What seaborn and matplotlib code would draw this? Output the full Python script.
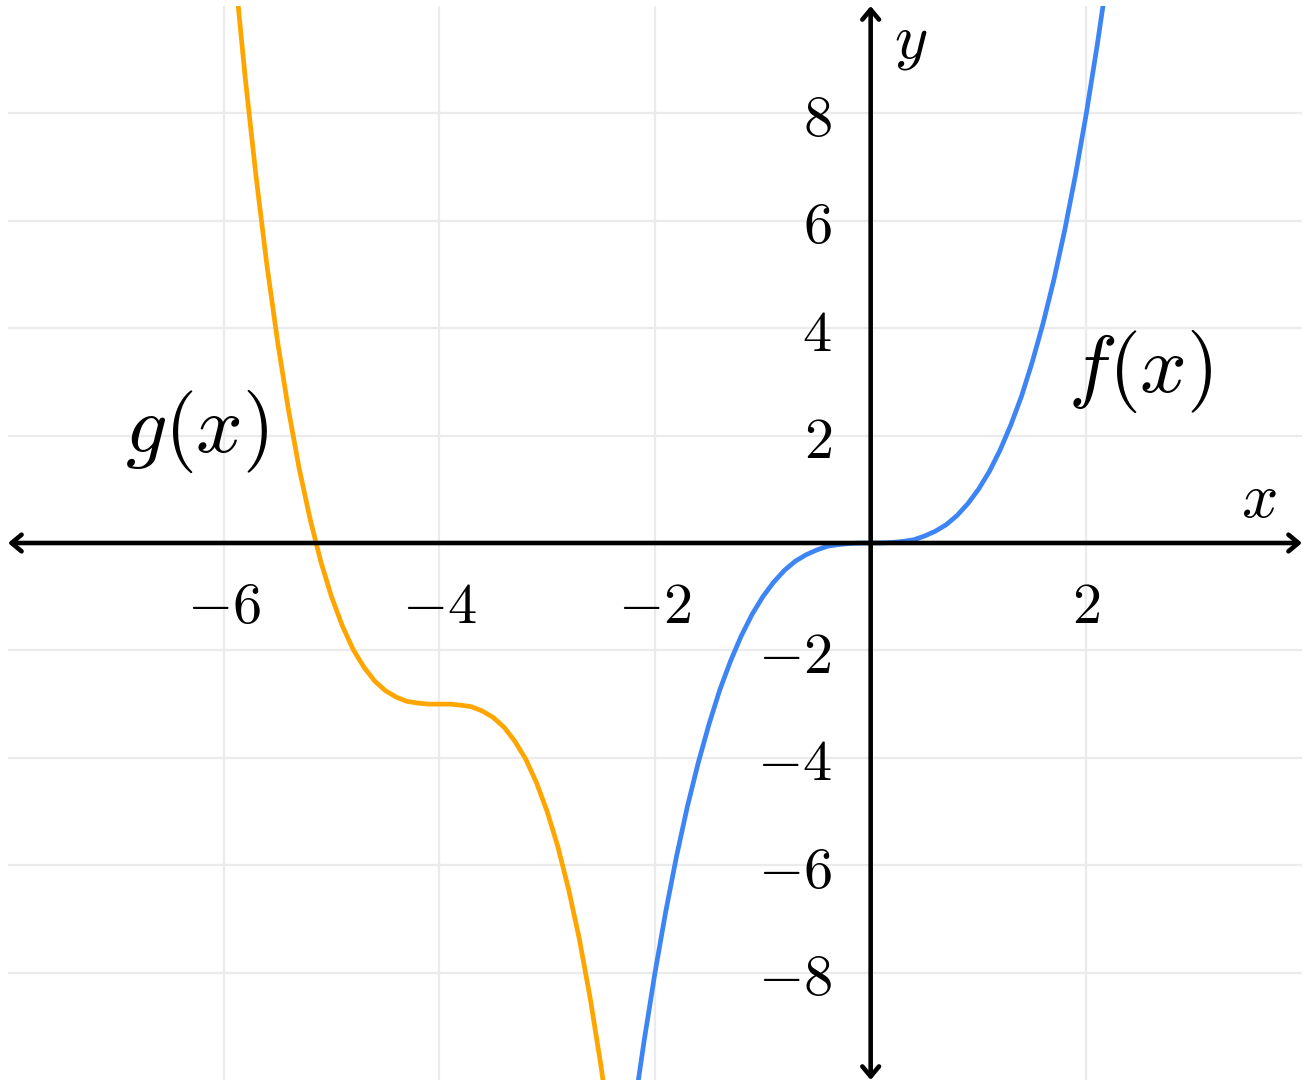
import matplotlib
matplotlib.use("Agg")
import matplotlib.pyplot as plt
import seaborn as sns
import pandas as pd

# ---- data ----
f_x = [-2.16, -2.1, -2.0, -1.9, -1.8, -1.7, -1.6, -1.5, -1.4, -1.3, -1.2, -1.1,
       -1.0, -0.9, -0.8, -0.7, -0.6, -0.5, -0.4, -0.3, -0.2, -0.1, 0.0,
       0.1, 0.2, 0.3, 0.4, 0.5, 0.6, 0.7, 0.8, 0.9, 1.0, 1.1, 1.2, 1.3,
       1.4, 1.5, 1.6, 1.7, 1.8, 1.9, 2.0, 2.1, 2.16]
f_y = [-10.08, -9.26, -8.0, -6.86, -5.83, -4.91, -4.10, -3.38, -2.74, -2.20, -1.73, -1.33,
       -1.0, -0.73, -0.51, -0.34, -0.22, -0.13, -0.06, -0.03, -0.01, -0.001, 0.0,
       0.001, 0.01, 0.03, 0.06, 0.13, 0.22, 0.34, 0.51, 0.73, 1.0, 1.33, 1.73, 2.20,
       2.74, 3.38, 4.10, 4.91, 5.83, 6.86, 8.0, 9.26, 10.08]

g_x = [-5.9, -5.8, -5.7, -5.6, -5.5, -5.4, -5.3, -5.2, -5.1, -5.0, -4.9, -4.8,
       -4.7, -4.6, -4.5, -4.4, -4.3, -4.2, -4.1, -4.0, -3.9, -3.8, -3.7, -3.6,
       -3.5, -3.4, -3.3, -3.2, -3.1, -3.0, -2.9, -2.8, -2.7, -2.6, -2.5, -2.4]
g_y = [10.72, 8.66, 6.83, 5.19, 3.75, 2.49, 1.39, 0.46, -0.34, -1.0, -1.54, -1.98,
       -2.31, -2.57, -2.75, -2.87, -2.95, -2.98, -3.0, -3.0, -3.0, -3.02, -3.05, -3.13,
       -3.25, -3.43, -3.69, -4.02, -4.46, -5.0, -5.66, -6.46, -7.39, -8.49, -9.75, -11.19]

x_ticks = [-6, -4, -2, 2]
y_ticks = [-8, -6, -4, -2, 2, 4, 6, 8]
x_limits = [-8, 4]
y_limits = [-10, 10]

curve_names = ["f(x)", "g(x)"]
curve_colors = ["#3d85f5", "#ffa500"]

# ---- styling ----
sns.set_theme(style="white")
plt.rcParams["font.family"] = ["DejaVu Sans"]
plt.rcParams["mathtext.fontset"] = "cm"
plt.rcParams["text.color"] = "black"

fig = plt.figure(figsize=(13.06, 10.86), dpi=100)
ax = fig.add_axes([8 / 1306, 6 / 1086, 1294 / 1306, 1074 / 1086])

df_f = pd.DataFrame({"x": f_x, "y": f_y})
df_g = pd.DataFrame({"x": g_x, "y": g_y})
sns.lineplot(data=df_g, x="x", y="y", ax=ax, color=curve_colors[1], lw=3.4, sort=False)
sns.lineplot(data=df_f, x="x", y="y", ax=ax, color=curve_colors[0], lw=3.4, sort=False)

ax.set_xlim(*x_limits)
ax.set_ylim(*y_limits)
ax.set_xlabel("")
ax.set_ylabel("")

for side in ["left", "bottom"]:
    ax.spines[side].set_position("zero")
    ax.spines[side].set_color("none")
for side in ["right", "top"]:
    ax.spines[side].set_visible(False)

ax.set_xticks(x_ticks)
ax.set_yticks(y_ticks)
ax.set_xticklabels([r"$%d$" % t for t in x_ticks])
ax.set_yticklabels([r"$%d$" % t for t in y_ticks])
ax.tick_params(axis="both", which="major", direction="inout", length=14, width=1.5,
               color="#999999", labelsize=42, labelcolor="black")
ax.tick_params(axis="x", pad=18)
ax.tick_params(axis="y", pad=21)

ax.grid(True, color="#ebebeb", lw=1.6)
ax.set_axisbelow(True)
for gl in ax.get_xgridlines() + ax.get_ygridlines():
    gl.set_zorder(0)

arrow_kw = dict(arrowstyle="<->,head_length=0.6,head_width=0.5", color="black",
                lw=3.3, shrinkA=0, shrinkB=0)
ax.annotate("", xy=(x_limits[1], 0), xytext=(x_limits[0], 0),
            arrowprops=arrow_kw, annotation_clip=False, zorder=5)
ax.annotate("", xy=(0, y_limits[1]), xytext=(0, y_limits[0]),
            arrowprops=arrow_kw, annotation_clip=False, zorder=5)

ax.text(3.6, 0.82, r"$x$", fontsize=46, ha="center", va="center", color="black")
ax.text(0.37, 9.35, r"$y$", fontsize=46, ha="center", va="center", color="black")

ax.text(-6.25, 2.08, r"$g(x)$", fontsize=59, ha="center", va="center", color="black")
ax.text(2.5, 3.2, r"$f(x)$", fontsize=59, ha="center", va="center", color="black")

fig.savefig("out.png", dpi=100)
